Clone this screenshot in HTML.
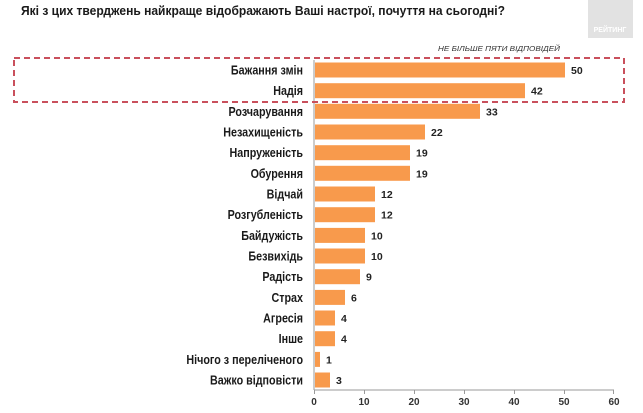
<!DOCTYPE html>
<html><head><meta charset="utf-8">
<style>
html,body{margin:0;padding:0;background:#fff;}
svg{display:block;}
text{font-family:"Liberation Sans",Arial,sans-serif;}
</style></head>
<body>
<svg width="643" height="413" viewBox="0 0 643 413" xmlns="http://www.w3.org/2000/svg">
<rect width="643" height="413" fill="#ffffff"/>
<!-- logo -->
<rect x="588" y="0" width="45" height="38" fill="#e2e2e2"/>
<text x="610" y="32" font-size="7" font-weight="bold" fill="#ffffff" text-anchor="middle">РЕЙТИНГ</text>
<!-- title -->
<text x="21" y="15" font-size="13" font-weight="bold" fill="#1a1a1a" textLength="484" lengthAdjust="spacingAndGlyphs">Які з цих тверджень найкраще відображають Ваші настрої, почуття на сьогодні?</text>
<text x="438" y="51" font-size="7.5" font-style="italic" fill="#333" textLength="122" lengthAdjust="spacingAndGlyphs">НЕ БІЛЬШЕ ПЯТИ ВІДПОВІДЕЙ</text>
<!-- axes -->
<line x1="314" y1="60" x2="314" y2="390" stroke="#9a9a9a" stroke-width="1"/>
<line x1="314" y1="390" x2="614" y2="390" stroke="#9a9a9a" stroke-width="1"/>
<g stroke="#9a9a9a" stroke-width="1">
<line x1="314.5" y1="390" x2="314.5" y2="394"/>
<line x1="364.5" y1="390" x2="364.5" y2="394"/>
<line x1="414.5" y1="390" x2="414.5" y2="394"/>
<line x1="464.5" y1="390" x2="464.5" y2="394"/>
<line x1="514.5" y1="390" x2="514.5" y2="394"/>
<line x1="564.5" y1="390" x2="564.5" y2="394"/>
<line x1="613.5" y1="390" x2="613.5" y2="394"/>
</g>
<g font-size="10" font-weight="bold" fill="#333" text-anchor="middle">
<text x="314" y="405">0</text>
<text x="364" y="405">10</text>
<text x="414" y="405">20</text>
<text x="464" y="405">30</text>
<text x="514" y="405">40</text>
<text x="564" y="405">50</text>
<text x="614" y="405">60</text>
</g>
<!-- bars -->
<g fill="#f89a4c">
<rect x="315" y="62.5" width="250" height="15"/>
<rect x="315" y="83.2" width="210" height="15"/>
<rect x="315" y="103.8" width="165" height="15"/>
<rect x="315" y="124.5" width="110" height="15"/>
<rect x="315" y="145.2" width="95" height="15"/>
<rect x="315" y="165.8" width="95" height="15"/>
<rect x="315" y="186.5" width="60" height="15"/>
<rect x="315" y="207.2" width="60" height="15"/>
<rect x="315" y="227.9" width="50" height="15"/>
<rect x="315" y="248.5" width="50" height="15"/>
<rect x="315" y="269.2" width="45" height="15"/>
<rect x="315" y="289.9" width="30" height="15"/>
<rect x="315" y="310.5" width="20" height="15"/>
<rect x="315" y="331.2" width="20" height="15"/>
<rect x="315" y="351.9" width="5" height="15"/>
<rect x="315" y="372.5" width="15" height="15"/>
</g>
<!-- value labels -->
<g font-size="10.5" font-weight="bold" fill="#222">
<text x="571" y="74">50</text>
<text x="531" y="94.7">42</text>
<text x="486" y="115.3">33</text>
<text x="431" y="136">22</text>
<text x="416" y="156.7">19</text>
<text x="416" y="177.3">19</text>
<text x="381" y="198">12</text>
<text x="381" y="218.7">12</text>
<text x="371" y="239.4">10</text>
<text x="371" y="260">10</text>
<text x="366" y="280.7">9</text>
<text x="351" y="301.4">6</text>
<text x="341" y="322">4</text>
<text x="341" y="342.7">4</text>
<text x="326" y="363.4">1</text>
<text x="336" y="384">3</text>
</g>
<!-- category labels -->
<g transform="translate(303,0) scale(0.86,1)" font-size="12.5" font-weight="bold" fill="#1a1a1a" text-anchor="end">
<text x="0" y="74.5">Бажання змін</text>
<text x="0" y="95.2">Надія</text>
<text x="0" y="115.8">Розчарування</text>
<text x="0" y="136.5">Незахищеність</text>
<text x="0" y="157.2">Напруженість</text>
<text x="0" y="177.8">Обурення</text>
<text x="0" y="198.5">Відчай</text>
<text x="0" y="219.2">Розгубленість</text>
<text x="0" y="239.9">Байдужість</text>
<text x="0" y="260.5">Безвихідь</text>
<text x="0" y="281.2">Радість</text>
<text x="0" y="301.9">Страх</text>
<text x="0" y="322.5">Агресія</text>
<text x="0" y="343.2">Інше</text>
<text x="0" y="363.9">Нічого з переліченого</text>
<text x="0" y="384.5">Важко відповісти</text>
</g>
<!-- dashed highlight box -->
<rect x="14" y="58" width="610" height="44" fill="none" stroke="#c9505c" stroke-width="2" stroke-dasharray="6,4"/>
</svg>
</body></html>
